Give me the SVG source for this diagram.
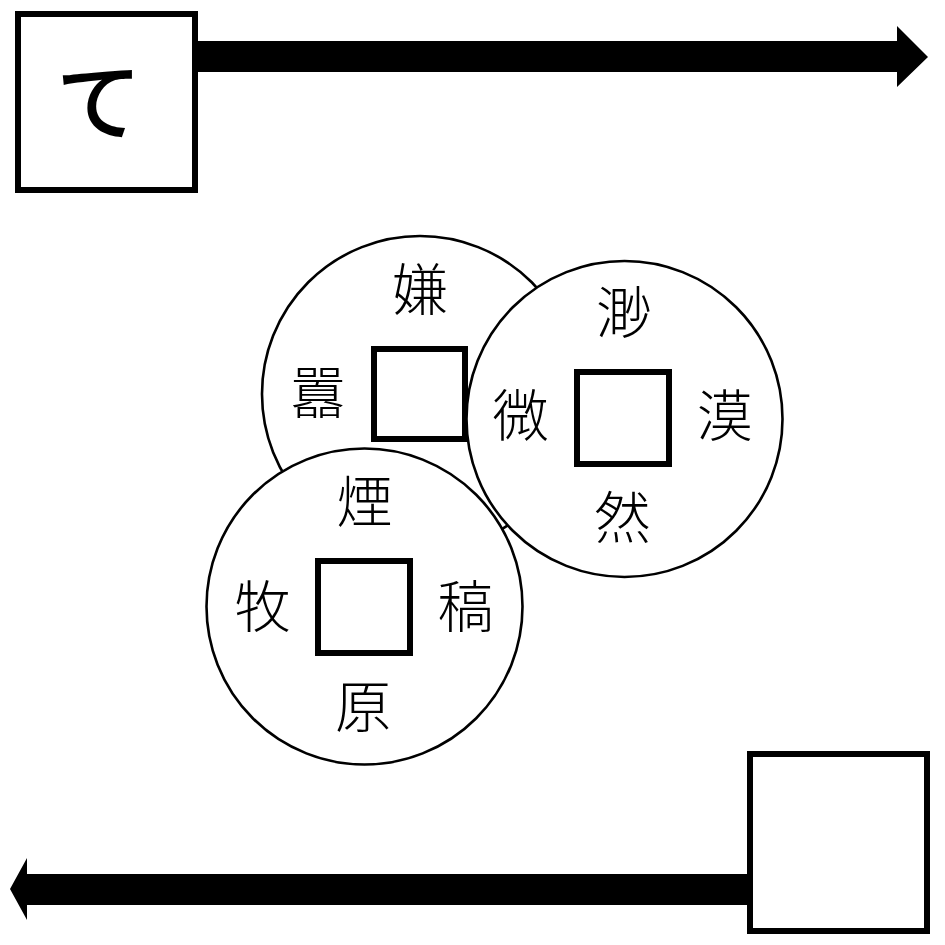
<svg xmlns="http://www.w3.org/2000/svg" width="945" height="945" viewBox="0 0 945 945">
  <style>
    .box { fill: #fff; stroke: #000; stroke-width: 6; }
    .coin { fill: #fff; stroke: #000; stroke-width: 2.6; }
    .hole { fill: #fff; stroke: #000; stroke-width: 6; }
    .arrow { fill: #000; stroke: none; }
    .ch { font-family: "Noto Sans CJK JP", "Noto Sans CJK SC", sans-serif; font-weight: 300; font-size: 56px; fill: #000; text-anchor: middle; dominant-baseline: central; }
    .big { font-family: "Noto Sans CJK JP", "Noto Sans CJK SC", sans-serif; font-weight: 500; font-size: 86px; fill: #000; text-anchor: middle; dominant-baseline: central; }
  </style>
  <rect width="945" height="945" fill="#fff"/>
  <g id="connectors">
    <polygon class="arrow" points="198,41 897,41 897,26 928,57 897,87 897,72 198,72"/>
    <polygon class="arrow" points="747,874 27,874 27,858 10,889 27,920 27,905 747,905"/>
  </g>
  <g id="box-te">
    <rect class="box" x="18" y="14" width="177" height="176"/>
    <text class="big" x="99" y="96">て</text>
  </g>
  <g id="box-empty">
    <rect class="box" x="750" y="754" width="177" height="177"/>
  </g>
  <g id="coin-1">
    <circle class="coin" cx="420" cy="394" r="158"/>
    <rect class="hole" x="374" y="349" width="91" height="90"/>
    <text class="ch" x="420" y="285">嫌</text>
    <text class="ch" x="318" y="388">囂</text>
  </g>
  <g id="coin-2">
    <circle class="coin" cx="624.5" cy="419" r="158"/>
    <rect class="hole" x="577" y="372" width="92" height="92"/>
    <text class="ch" x="624" y="308">渺</text>
    <text class="ch" x="520.5" y="411">微</text>
    <text class="ch" x="724.5" y="411">漠</text>
    <text class="ch" x="622.5" y="513">然</text>
  </g>
  <g id="coin-3">
    <circle class="coin" cx="364.5" cy="606.5" r="158"/>
    <rect class="hole" x="318" y="561" width="92" height="92"/>
    <text class="ch" x="364.5" y="497">煙</text>
    <text class="ch" x="262.5" y="602">牧</text>
    <text class="ch" x="465.5" y="602">稿</text>
    <text class="ch" x="363" y="702">原</text>
  </g>
</svg>
